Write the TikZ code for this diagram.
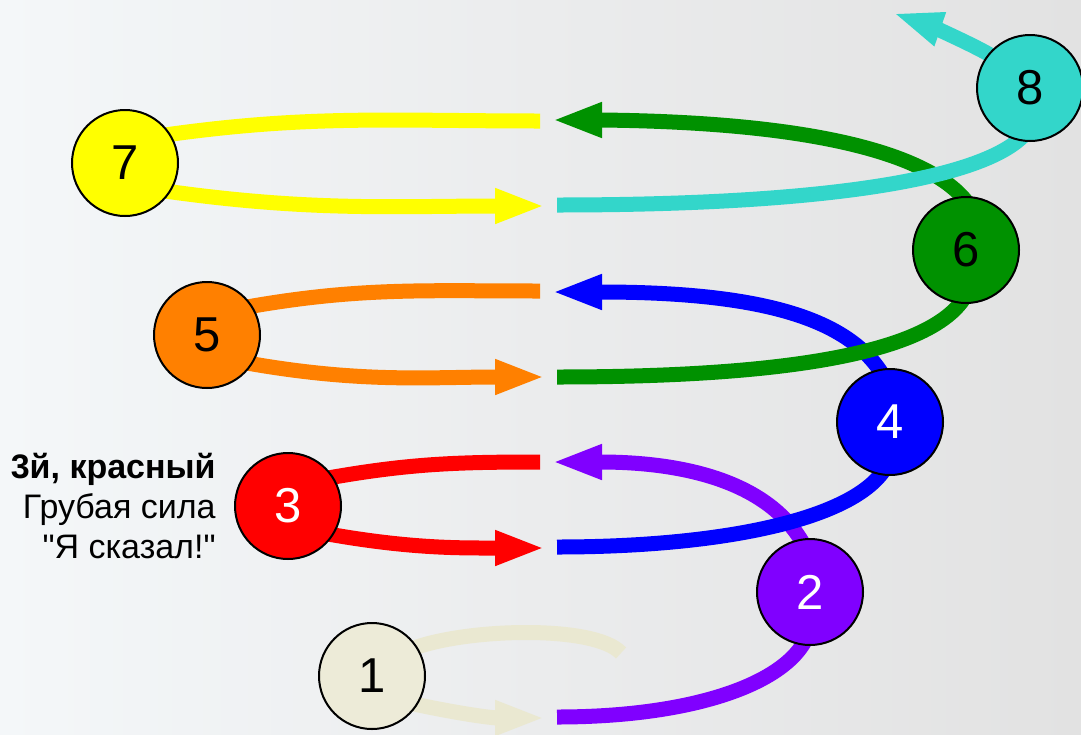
\documentclass[tikz,border=0pt]{standalone}
\usepackage{fontspec}
\setmainfont{Liberation Sans}[Ligatures=TeXOff]
\usetikzlibrary{arrows.meta,calc}
\definecolor{bgl}{HTML}{F4F7F9}
\definecolor{bgm}{HTML}{EBECED}
\definecolor{bgr}{HTML}{E2E2E2}
\definecolor{cream}{HTML}{EAE8D1}
\definecolor{creamfill}{HTML}{EDEBD8}
\definecolor{cpurple}{HTML}{8000FF}
\definecolor{cred}{HTML}{FF0000}
\definecolor{cblue}{HTML}{0000FF}
\definecolor{corange}{HTML}{FF8000}
\definecolor{cgreen}{HTML}{009100}
\definecolor{cyellow}{HTML}{FFFF00}
\definecolor{cturq}{HTML}{33D6CA}
\begin{document}
\begin{tikzpicture}[x=0.5pt,y=-0.5pt,
  ball/.style={circle,draw=black,line width=1pt,minimum size=53pt,inner sep=0pt,
    font=\fontsize{24.5}{28}\selectfont},
  band/.style={line width=7.5pt},
  arr/.style={band,-{Triangle[length=25pt,width=16pt]}}]
\useasboundingbox (0,0) rectangle (1081,734);
\shade[left color=bgl,right color=bgr,middle color=bgm] (0,0) rectangle (1081,734);

% free ends
\coordinate (u1) at (621,653);
\coordinate (d1) at (545,718);
\coordinate (b2) at (557,717);
\coordinate (t2) at (552,462);
\coordinate (u3) at (540,462);
\coordinate (d3) at (545,548);
\coordinate (b4) at (557,547);
\coordinate (t4) at (552,292);
\coordinate (u5) at (540,291);
\coordinate (d5) at (545,377);
\coordinate (b6) at (557,377);
\coordinate (t6) at (552,120);
\coordinate (u7) at (540,121);
\coordinate (d7) at (545,206);
\coordinate (b8) at (557,205);
\coordinate (t8) at (893,13);

% positions of circles
\path (372,676) coordinate (p1) (810,592) coordinate (p2) (288,506) coordinate (p3)
      (890,422) coordinate (p4) (207,335) coordinate (p5) (966,250) coordinate (p6)
      (125,163) coordinate (p7) (1030,88) coordinate (p8);

% 1
\draw[band,cream] ($(p1)+(42,-28)$) .. controls (470,628) and (595,625) .. (u1);
\draw[arr,cream] ($(p1)+(42,28)$) to[out=-12,in=180] (d1);
\node[ball,fill=creamfill,text=black] (c1) at (p1) {1};
% 2
\draw[band,cpurple] ($(p2)+(-3,45)$) .. controls (785,685) and (690,717) .. (b2);
\draw[arr,cpurple] ($(p2)+(-5,-45)$) .. controls (770,480) and (680,462) .. (600,462) -- (t2);
\node[ball,fill=cpurple,text=white] (c2) at (p2) {2};
% 3
\draw[band,cred] ($(p3)+(40,-28)$) to[out=10,in=180] (u3);
\draw[arr,cred] ($(p3)+(40,28)$) to[out=-10,in=180] (d3);
\node[ball,fill=cred,text=white] (c3) at (p3) {3};
% 4
\draw[band,cblue] ($(p4)+(-4,45)$) .. controls (855,520) and (720,547) .. (b4);
\draw[arr,cblue] ($(p4)+(-6,-45)$) .. controls (850,318) and (760,292) .. (600,292) -- (t4);
\node[ball,fill=cblue,text=white] (c4) at (p4) {4};
% 5
\draw[band,corange] ($(p5)+(40,-28)$) to[out=10,in=180] (u5);
\draw[arr,corange] ($(p5)+(40,28)$) to[out=-10,in=180] (d5);
\node[ball,fill=corange,text=black] (c5) at (p5) {5};
% 6
\draw[band,cgreen] ($(p6)+(0,45)$) .. controls (935,350) and (800,377) .. (b6);
\draw[arr,cgreen] ($(p6)+(3,-45)$) .. controls (930,150) and (800,122) .. (600,120) -- (t6);
\node[ball,fill=cgreen,text=black] (c6) at (p6) {6};
% 7
\draw[band,cyellow] ($(p7)+(40,-28)$) to[out=8,in=180] (u7);
\draw[arr,cyellow] ($(p7)+(40,28)$) to[out=-8,in=180] (d7);
\node[ball,fill=cyellow,text=black] (c7) at (p7) {7};
% 8
\draw[band,cturq] ($(p8)+(-4,45)$) .. controls (985,180) and (820,205) .. (b8);
\draw[arr,cturq] ($(p8)+(-38,-32)$) .. controls (968,42) and (925,24) .. (t8);
\node[ball,fill=cturq,text=black] (c8) at (p8) {8};

% label
\node[anchor=east,align=right,inner sep=0pt,font=\fontsize{17}{20}\selectfont] (lbl) at (216,506)
  {\textbf{3й, красный}\\Грубая сила\\"Я сказал!"};
\end{tikzpicture}
\end{document}
